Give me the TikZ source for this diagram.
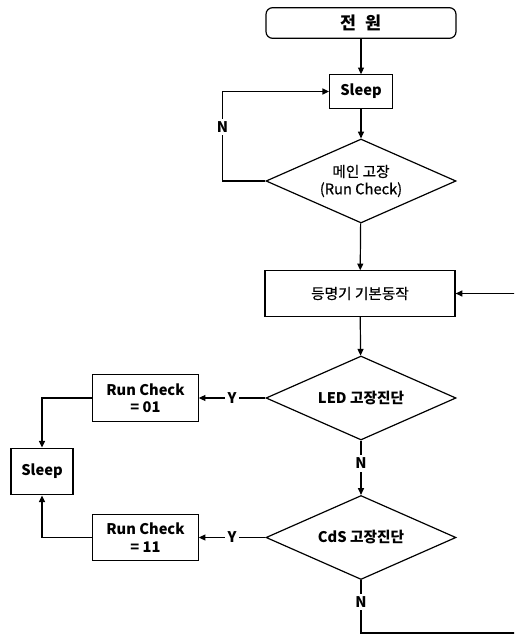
\documentclass[tikz,border=0pt]{standalone}
\usepackage{fontspec}
\setmainfont{Noto Sans CJK KR}
\newfontfamily\medfont{Noto Sans CJK KR}[FakeBold=0.6]
\usetikzlibrary{arrows.meta, shapes.geometric}

\begin{document}
\begin{tikzpicture}[x=0.75pt, y=-0.75pt, line width=0.9pt,
  >={Triangle[length=5pt, width=4.5pt]},
  every node/.style={font=\fontsize{11}{13}\selectfont},
  procbox/.style={draw, rectangle, inner sep=2pt, align=center, font=\fontsize{11}{13}\selectfont\bfseries},
  decision/.style={draw, diamond, aspect=2.26, inner sep=0pt, minimum width=142.5pt, minimum height=63pt, align=center},
  yn/.style={fill=white, inner sep=2pt, font=\fontsize{11}{13}\selectfont\bfseries}]
  \useasboundingbox (0,0) rectangle (514,635);
  \clip (0,0) rectangle (514,635);

  % Main column
  \node (power) [procbox, rounded corners=5pt, minimum width=142.5pt, minimum height=23pt, font=\fontsize{13}{15}\selectfont\bfseries] at (361,23) {전\hspace{0.5em}원};
  \node (sleep) [procbox, minimum width=47pt, minimum height=25pt] at (361,91.5) {Sleep};
  \node (maincheck) [decision, font=\fontsize{11}{13}\medfont] at (361,181) {메인 고장\\(Run Check)};
  \node (basic) [procbox, font=\fontsize{11}{13}\medfont, minimum width=142.5pt, minimum height=34pt] at (360,293.5) {등명기 기본동작};
  \node (ledcheck) [decision, font=\fontsize{11}{13}\selectfont\bfseries] at (361,398) {LED 고장진단};
  \node (cdscheck) [decision, font=\fontsize{11}{13}\selectfont\bfseries] at (361,537.5) {CdS 고장진단};

  % Fault branch
  \node (rcled) [procbox, minimum width=79pt, minimum height=35pt] at (145.5,398) {Run Check\\= 01};
  \node (sleepfault) [procbox, minimum width=46.5pt, minimum height=35pt] at (42,471.5) {Sleep};
  \node (rccds) [procbox, minimum width=79pt, minimum height=35pt] at (145.5,537.5) {Run Check\\= 11};

  % free ends of the return line
  \coordinate (cdsout) at (361,633);
  \coordinate (edgebot) at (520,633);
  \coordinate (edgetop) at (520,293.5);

  % Arrows
  \draw[->] (power) -- (sleep);
  \draw[->] (sleep) -- (maincheck);
  \draw[->] (maincheck.west) -- ++(-43,0) |- node[yn, pos=0.3] {N} (sleep.west);
  \draw[->] (maincheck) -- (basic);
  \draw[->] (basic) -- (ledcheck);
  \draw[->] (ledcheck) -- node[yn] {Y} (rcled);
  \draw[->] (rcled.west) -| (sleepfault.north);
  \draw[->] (ledcheck) -- node[yn, pos=0.42] {N} (cdscheck);
  \draw[->] (cdscheck) -- node[yn] {Y} (rccds);
  \draw[->] (rccds.west) -| (sleepfault.south);
  \draw[->] (cdscheck) -- node[yn, pos=0.42] {N} (cdsout) -- (edgebot) -- (edgetop) -- (basic.east);
\end{tikzpicture}
\end{document}
